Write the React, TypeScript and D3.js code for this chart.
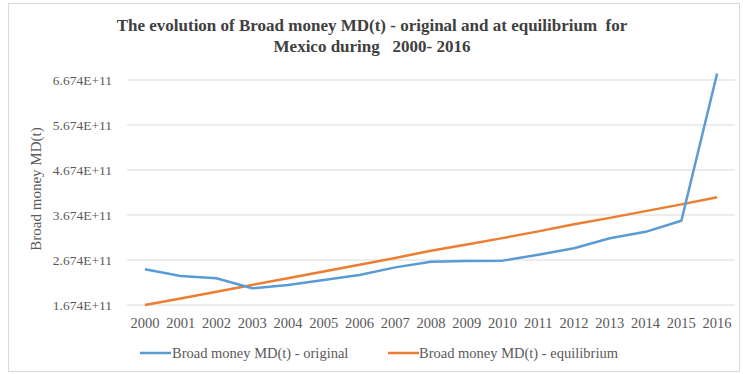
import React from "react";
import * as d3 from "d3";

const years = ["2000","2001","2002","2003","2004","2005","2006","2007","2008","2009","2010","2011","2012","2013","2014","2015","2016"];
const original = [2.467e11, 2.318e11, 2.267e11, 2.045e11, 2.118e11, 2.23e11, 2.34e11, 2.51e11, 2.636e11, 2.65e11, 2.66e11, 2.79e11, 2.934e11, 3.157e11, 3.30e11, 3.547e11, 6.82e11];
const equilibrium = [1.674e11, 1.82e11, 1.97e11, 2.12e11, 2.27e11, 2.42e11, 2.57e11, 2.72e11, 2.88e11, 3.02e11, 3.16e11, 3.31e11, 3.47e11, 3.61e11, 3.76e11, 3.91e11, 4.07e11];
const yTicks = [1.674e11, 2.674e11, 3.674e11, 4.674e11, 5.674e11, 6.674e11];
const yTickLabels = ["1.674E+11", "2.674E+11", "3.674E+11", "4.674E+11", "5.674E+11", "6.674E+11"];
const seriesNames = ["Broad money MD(t) - original", "Broad money MD(t) - equilibrium"];
const titleLines = ["The evolution of Broad money MD(t) - original and at equilibrium  for", "Mexico during   2000- 2016"];

const W = 743, H = 374;
const plot = { left: 127, right: 735, top: 80, bottom: 305 };
const BLUE = "#5B9BD5", ORANGE = "#ED7D31";
const FONT = "Liberation Serif, Times New Roman, Times, DejaVu Serif, serif";

export default function App() {
  const x = d3.scaleBand<string>().domain(years).range([plot.left, plot.right]);
  const y = d3.scaleLinear().domain([1.674e11, 6.674e11]).range([plot.bottom, plot.top]);
  const cx = (d: string) => (x(d) as number) + x.bandwidth() / 2;
  const line = d3.line<number>().x((_, i) => cx(years[i])).y((v) => y(v));
  const base = { fontFamily: FONT, fill: "#595959" } as React.CSSProperties;

  return (
    <svg width={W} height={H} style={{ position: "absolute", left: 0, top: 0, background: "#fff" }}>
      <rect x={8.5} y={3.5} width={731} height={368} fill="#fff" stroke="#d9d9d9" />
      {titleLines.map((t, i) => (
        <text key={i} x={372} y={31 + i * 21} textAnchor="middle"
          style={{ fontFamily: FONT, fontWeight: "bold", fontSize: 17, fill: "#404040", whiteSpace: "pre" }}>{t}</text>
      ))}
      {yTicks.map((t, i) => (
        <g key={i}>
          <line x1={plot.left} x2={plot.right} y1={y(t)} y2={y(t)} stroke="#d9d9d9" strokeWidth={1} />
          <text x={112} y={y(t) + 4.5} textAnchor="end" style={{ ...base, fontSize: 13.5 }}>{yTickLabels[i]}</text>
        </g>
      ))}
      {years.map((yr) => (
        <text key={yr} x={cx(yr)} y={327.5} textAnchor="middle" style={{ ...base, fontSize: 14.5 }}>{yr}</text>
      ))}
      <text transform={`translate(41,189) rotate(-90)`} textAnchor="middle" style={{ ...base, fontSize: 15 }}>Broad money MD(t)</text>
      <path d={line(equilibrium) || ""} fill="none" stroke={ORANGE} strokeWidth={2.5} strokeLinejoin="round" />
      <path d={line(original) || ""} fill="none" stroke={BLUE} strokeWidth={2.5} strokeLinejoin="round" />
      <line x1={140} x2={171} y1={353} y2={353} stroke={BLUE} strokeWidth={2.5} />
      <text x={172} y={358} style={{ ...base, fontSize: 14.5 }}>{seriesNames[0]}</text>
      <line x1={388} x2={419} y1={353} y2={353} stroke={ORANGE} strokeWidth={2.5} />
      <text x={419} y={358} style={{ ...base, fontSize: 14.5 }}>{seriesNames[1]}</text>
    </svg>
  );
}
